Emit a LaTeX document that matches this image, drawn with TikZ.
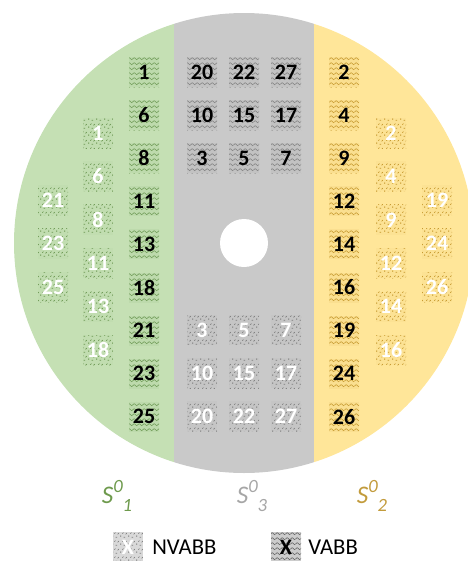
\documentclass[tikz,border=0pt]{standalone}
\usepackage{fontspec}
\setmainfont{Carlito}
\usetikzlibrary{patterns}
\definecolor{grn}{HTML}{C5E0B4}
\definecolor{gry}{HTML}{C9C9C9}
\definecolor{ylw}{HTML}{FFE699}
\definecolor{gpat}{HTML}{6A9650}
\definecolor{rpat}{HTML}{7C7C7C}
\definecolor{ypat}{HTML}{C29428}
\definecolor{glab}{HTML}{6E9A4D}
\definecolor{rlab}{HTML}{A6A6A6}
\definecolor{ylab}{HTML}{C29B3C}
\pgfdeclarepatternformonly{mywaves}{\pgfqpoint{0pt}{0pt}}{\pgfqpoint{4pt}{3.6pt}}{\pgfqpoint{4pt}{3.6pt}}{%
  \pgfsetlinewidth{0.35pt}%
  \pgfpathmoveto{\pgfqpoint{0pt}{1.8pt}}%
  \pgfpathcurveto{\pgfqpoint{1pt}{2.9pt}}{\pgfqpoint{1pt}{2.9pt}}{\pgfqpoint{2pt}{1.8pt}}%
  \pgfpathcurveto{\pgfqpoint{3pt}{0.7pt}}{\pgfqpoint{3pt}{0.7pt}}{\pgfqpoint{4pt}{1.8pt}}%
  \pgfusepath{stroke}}
\pgfdeclarepatternformonly{myspeck}{\pgfqpoint{0pt}{0pt}}{\pgfqpoint{6pt}{6pt}}{\pgfqpoint{6pt}{6pt}}{%
  \pgfsetlinewidth{0.5pt}%
  \pgfpathmoveto{\pgfqpoint{0.6pt}{1pt}}\pgfpathlineto{\pgfqpoint{0.6pt}{2.2pt}}%
  \pgfpathmoveto{\pgfqpoint{3pt}{0.6pt}}\pgfpathlineto{\pgfqpoint{4.2pt}{0.6pt}}%
  \pgfpathmoveto{\pgfqpoint{2pt}{3.5pt}}\pgfpathlineto{\pgfqpoint{2.8pt}{4.5pt}}%
  \pgfpathmoveto{\pgfqpoint{4.6pt}{3pt}}\pgfpathlineto{\pgfqpoint{5.5pt}{4pt}}%
  \pgfusepath{stroke}}
\tikzset{
  cellbase/.style={minimum width=22.5pt, minimum height=22.5pt, inner sep=0pt,
    font=\fontsize{16.5}{19}\selectfont\bfseries},
  vabb/.style={cellbase, text=black, fill=#1, fill opacity=0.08, text opacity=1,
    postaction={pattern=mywaves, pattern color=#1, fill opacity=1}},
  nvabb/.style={cellbase, text=white, fill=#1, fill opacity=0.04, text opacity=1,
    postaction={pattern=myspeck, pattern color=#1, fill opacity=1}},
  seclab/.style={font=\fontsize{19}{22}\selectfont\itshape},
  legtext/.style={font=\fontsize{17}{20}\selectfont, anchor=west, inner sep=0pt}
}
\newcommand{\seclabel}[2]{S\raisebox{0.45em}{\fontsize{14}{15}\selectfont #1}\raisebox{-0.3em}{\fontsize{14}{15}\selectfont #2}}
\begin{document}
\begin{tikzpicture}[x=0.75pt,y=-0.75pt]
\useasboundingbox (0,0) rectangle (468,561);
\begin{scope}
  \clip (0,0) rectangle (468,561);
  \clip (244,243) circle [radius=230];
  \fill[grn] (0,0) rectangle (174,561);
  \fill[gry] (174,0) rectangle (314,561);
  \fill[ylw] (314,0) rectangle (468,561);
\end{scope}
\fill[white] (244,243) circle [radius=24];
% main rows
\foreach \n [count=\i] in {1,6,8,11,13,18,21,23,25}
  \node[vabb=gpat] (gm\i) at (144,{72+43.1*(\i-1)}) {\n};
\foreach \n [count=\i] in {2,4,9,12,14,16,19,24,26}
  \node[vabb=ypat] (ym\i) at (344,{72+43.1*(\i-1)}) {\n};
% gray top
\foreach \a/\b/\c [count=\i] in {20/22/27,10/15/17,3/5/7}{
  \node[vabb=rpat] (rta\i) at (202,{72+43.1*(\i-1)}) {\a};
  \node[vabb=rpat] (rtb\i) at (244,{72+43.1*(\i-1)}) {\b};
  \node[vabb=rpat] (rtc\i) at (286,{72+43.1*(\i-1)}) {\c};
}
% gray bottom
\foreach \a/\b/\c [count=\i] in {3/5/7,10/15/17,20/22/27}{
  \node[nvabb=rpat] (rba\i) at (202,{330+43.1*(\i-1)}) {\a};
  \node[nvabb=rpat] (rbb\i) at (244,{330+43.1*(\i-1)}) {\b};
  \node[nvabb=rpat] (rbc\i) at (286,{330+43.1*(\i-1)}) {\c};
}
% inner columns
\foreach \n [count=\i] in {1,6,8,11,13,18}
  \node[nvabb=gpat] (gi\i) at (98,{133+43.4*(\i-1)}) {\n};
\foreach \n [count=\i] in {2,4,9,12,14,16}
  \node[nvabb=ypat] (yi\i) at (391,{133+43.4*(\i-1)}) {\n};
% outer columns
\foreach \n [count=\i] in {21,23,25}
  \node[nvabb=gpat] (go\i) at (53,{200+43.5*(\i-1)}) {\n};
\foreach \n [count=\i] in {19,24,26}
  \node[nvabb=ypat] (yo\i) at (437,{200+43.5*(\i-1)}) {\n};
% section labels
\node[seclab, text=glab] (s1) at (117,496) {\seclabel{0}{1}};
\node[seclab, text=rlab] (s3) at (252,496) {\seclabel{0}{3}};
\node[seclab, text=ylab] (s2) at (372,496) {\seclabel{0}{2}};
% legend
\node[cellbase, fill=gray!30, text=white, postaction={pattern=myspeck, pattern color=rpat}] (lnv) at (128,547) {X};
\node[legtext] (lnvt) at (152,547) {NVABB};
\node[cellbase, fill=gray!40, text=black, postaction={pattern=mywaves, pattern color=rpat!70!black}] (lv) at (286,547) {X};
\node[legtext] (lvt) at (308,547) {VABB};
\end{tikzpicture}
\end{document}
